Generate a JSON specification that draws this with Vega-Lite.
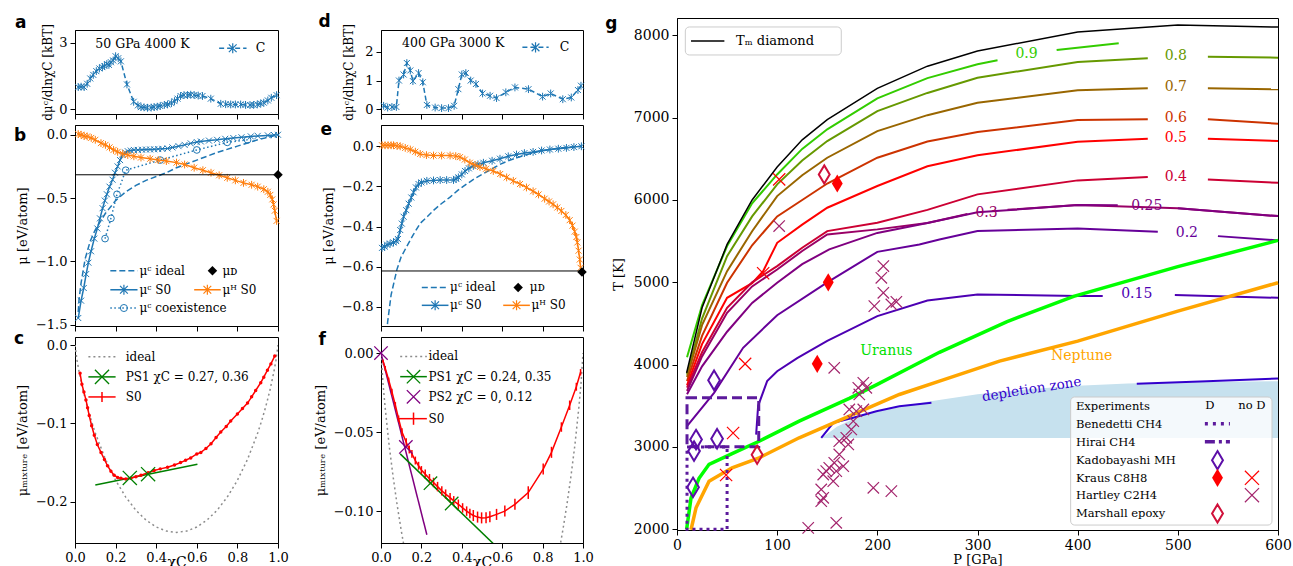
{
"$schema": "https://vega.github.io/schema/vega-lite/v6.json",
"padding": {"left": 13, "top": 12, "right": 0, "bottom": 0},
"config": {
  "font": "DejaVu Serif",
  "view": {"stroke": "black", "strokeWidth": 1},
  "axis": {"grid": false, "labelFlush": false, "domainColor": "black", "domainWidth": 1, "tickColor": "black", "tickWidth": 1, "tickSize": 5, "labelColor": "black", "labelFont": "DejaVu Serif", "labelFontSize": 13, "labelPadding": 3, "titleFont": "DejaVu Serif", "titleFontSize": 13, "titleFontWeight": "normal", "titleColor": "black"},
  "text": {"font": "DejaVu Serif", "fontSize": 12, "align": "left", "baseline": "middle", "color": "black"},
  "line": {"strokeWidth": 1.5}
},
"datasets": {
  "a": [{"x":0.016,"y":1.0},{"x":0.03,"y":1.02},{"x":0.045,"y":1.0},{"x":0.06,"y":1.15},{"x":0.075,"y":1.39},{"x":0.09,"y":1.55},{"x":0.105,"y":1.72},{"x":0.12,"y":1.84},{"x":0.135,"y":1.9},{"x":0.145,"y":1.95},{"x":0.157,"y":2.04},{"x":0.167,"y":2.0},{"x":0.177,"y":2.12},{"x":0.188,"y":2.2},{"x":0.2,"y":2.39},{"x":0.213,"y":2.3},{"x":0.226,"y":2.16},{"x":0.256,"y":1.12},{"x":0.289,"y":0.34},{"x":0.31,"y":0.18},{"x":0.325,"y":0.1},{"x":0.34,"y":0.09},{"x":0.357,"y":0.07},{"x":0.375,"y":0.08},{"x":0.39,"y":0.1},{"x":0.405,"y":0.12},{"x":0.42,"y":0.15},{"x":0.44,"y":0.2},{"x":0.456,"y":0.22},{"x":0.475,"y":0.28},{"x":0.49,"y":0.37},{"x":0.505,"y":0.48},{"x":0.52,"y":0.6},{"x":0.537,"y":0.64},{"x":0.554,"y":0.64},{"x":0.57,"y":0.66},{"x":0.587,"y":0.64},{"x":0.607,"y":0.62},{"x":0.628,"y":0.6},{"x":0.669,"y":0.48},{"x":0.718,"y":0.25},{"x":0.742,"y":0.23},{"x":0.767,"y":0.22},{"x":0.79,"y":0.22},{"x":0.816,"y":0.22},{"x":0.84,"y":0.2},{"x":0.862,"y":0.19},{"x":0.88,"y":0.2},{"x":0.898,"y":0.22},{"x":0.915,"y":0.26},{"x":0.93,"y":0.3},{"x":0.95,"y":0.4},{"x":0.967,"y":0.52},{"x":0.993,"y":0.64}],
  "b_cs0": [{"x":0.016,"y":-1.447},{"x":0.03,"y":-1.31},{"x":0.043,"y":-1.21},{"x":0.055,"y":-1.1},{"x":0.066,"y":-1.01},{"x":0.079,"y":-0.92},{"x":0.095,"y":-0.82},{"x":0.11,"y":-0.74},{"x":0.123,"y":-0.66},{"x":0.136,"y":-0.58},{"x":0.147,"y":-0.52},{"x":0.157,"y":-0.47},{"x":0.17,"y":-0.41},{"x":0.185,"y":-0.355},{"x":0.197,"y":-0.3},{"x":0.21,"y":-0.25},{"x":0.222,"y":-0.2},{"x":0.234,"y":-0.16},{"x":0.247,"y":-0.14},{"x":0.26,"y":-0.13},{"x":0.275,"y":-0.125},{"x":0.29,"y":-0.12},{"x":0.31,"y":-0.12},{"x":0.33,"y":-0.118},{"x":0.35,"y":-0.117},{"x":0.37,"y":-0.116},{"x":0.39,"y":-0.115},{"x":0.41,"y":-0.113},{"x":0.43,"y":-0.111},{"x":0.456,"y":-0.108},{"x":0.48,"y":-0.1},{"x":0.51,"y":-0.09},{"x":0.54,"y":-0.08},{"x":0.57,"y":-0.068},{"x":0.6,"y":-0.058},{"x":0.62,"y":-0.053},{"x":0.66,"y":-0.046},{"x":0.7,"y":-0.04},{"x":0.74,"y":-0.032},{"x":0.78,"y":-0.026},{"x":0.82,"y":-0.02},{"x":0.866,"y":-0.013},{"x":0.9,"y":-0.009},{"x":0.95,"y":-0.005},{"x":0.98,"y":-0.002},{"x":1.0,"y":0.0}],
  "b_hs0": [{"x":0.016,"y":0.005},{"x":0.03,"y":0.0},{"x":0.045,"y":-0.01},{"x":0.06,"y":-0.013},{"x":0.08,"y":-0.025},{"x":0.1,"y":-0.04},{"x":0.128,"y":-0.066},{"x":0.15,"y":-0.08},{"x":0.17,"y":-0.1},{"x":0.19,"y":-0.12},{"x":0.21,"y":-0.135},{"x":0.235,"y":-0.15},{"x":0.26,"y":-0.16},{"x":0.29,"y":-0.17},{"x":0.325,"y":-0.18},{"x":0.37,"y":-0.19},{"x":0.41,"y":-0.2},{"x":0.45,"y":-0.208},{"x":0.5,"y":-0.22},{"x":0.54,"y":-0.235},{"x":0.587,"y":-0.26},{"x":0.63,"y":-0.28},{"x":0.67,"y":-0.3},{"x":0.71,"y":-0.32},{"x":0.75,"y":-0.34},{"x":0.79,"y":-0.36},{"x":0.83,"y":-0.38},{"x":0.87,"y":-0.395},{"x":0.9,"y":-0.41},{"x":0.93,"y":-0.43},{"x":0.95,"y":-0.45},{"x":0.962,"y":-0.475},{"x":0.972,"y":-0.51},{"x":0.978,"y":-0.55},{"x":0.984,"y":-0.6},{"x":0.993,"y":-0.68}],
  "b_cid": [{"x":0.016,"y":-1.4},{"x":0.02,"y":-1.3},{"x":0.03,"y":-1.17},{"x":0.05,"y":-0.98},{"x":0.075,"y":-0.84},{"x":0.1,"y":-0.75},{"x":0.15,"y":-0.62},{"x":0.2,"y":-0.52},{"x":0.25,"y":-0.45},{"x":0.3,"y":-0.4},{"x":0.35,"y":-0.36},{"x":0.4,"y":-0.33},{"x":0.45,"y":-0.3},{"x":0.5,"y":-0.26},{"x":0.55,"y":-0.23},{"x":0.6,"y":-0.2},{"x":0.7,"y":-0.14},{"x":0.8,"y":-0.09},{"x":0.9,"y":-0.04},{"x":1.0,"y":0.0}],
  "b_cco": [{"x":0.148,"y":-0.82},{"x":0.177,"y":-0.66},{"x":0.207,"y":-0.47},{"x":0.25,"y":-0.28},{"x":0.42,"y":-0.2},{"x":0.6,"y":-0.12},{"x":0.75,"y":-0.06},{"x":0.85,"y":-0.04}],
  "c_s0": [{"x":0.025,"y":-0.036},{"x":0.034,"y":-0.05},{"x":0.044,"y":-0.06},{"x":0.054,"y":-0.07},{"x":0.062,"y":-0.08},{"x":0.07,"y":-0.09},{"x":0.082,"y":-0.103},{"x":0.095,"y":-0.115},{"x":0.11,"y":-0.127},{"x":0.128,"y":-0.137},{"x":0.145,"y":-0.146},{"x":0.16,"y":-0.154},{"x":0.177,"y":-0.161},{"x":0.193,"y":-0.166},{"x":0.21,"y":-0.169},{"x":0.226,"y":-0.17},{"x":0.25,"y":-0.171},{"x":0.275,"y":-0.17},{"x":0.3,"y":-0.168},{"x":0.325,"y":-0.166},{"x":0.36,"y":-0.163},{"x":0.39,"y":-0.16},{"x":0.42,"y":-0.158},{"x":0.456,"y":-0.156},{"x":0.49,"y":-0.153},{"x":0.52,"y":-0.15},{"x":0.545,"y":-0.147},{"x":0.57,"y":-0.144},{"x":0.6,"y":-0.139},{"x":0.62,"y":-0.137},{"x":0.645,"y":-0.132},{"x":0.67,"y":-0.126},{"x":0.695,"y":-0.118},{"x":0.718,"y":-0.111},{"x":0.745,"y":-0.104},{"x":0.767,"y":-0.097},{"x":0.8,"y":-0.088},{"x":0.825,"y":-0.081},{"x":0.85,"y":-0.074},{"x":0.87,"y":-0.066},{"x":0.89,"y":-0.058},{"x":0.915,"y":-0.048},{"x":0.93,"y":-0.041},{"x":0.948,"y":-0.032},{"x":0.965,"y":-0.024},{"x":0.984,"y":-0.014}],
  "c_id": [{"x":0,"y":0},{"x":0.01,"y":-0.0193},{"x":0.02,"y":-0.0338},{"x":0.04,"y":-0.058},{"x":0.06,"y":-0.0783},{"x":0.08,"y":-0.0962},{"x":0.1,"y":-0.1122},{"x":0.15,"y":-0.1458},{"x":0.2,"y":-0.1726},{"x":0.25,"y":-0.194},{"x":0.3,"y":-0.2108},{"x":0.35,"y":-0.2234},{"x":0.4,"y":-0.2322},{"x":0.45,"y":-0.2374},{"x":0.5,"y":-0.2391},{"x":0.55,"y":-0.2374},{"x":0.6,"y":-0.2322},{"x":0.65,"y":-0.2234},{"x":0.7,"y":-0.2108},{"x":0.75,"y":-0.194},{"x":0.8,"y":-0.1726},{"x":0.85,"y":-0.1458},{"x":0.9,"y":-0.1122},{"x":0.92,"y":-0.0962},{"x":0.94,"y":-0.0783},{"x":0.96,"y":-0.058},{"x":0.98,"y":-0.0338},{"x":0.99,"y":-0.0193},{"x":1,"y":0}],
  "c_ps1l": [{"x":0.1,"y":-0.1786},{"x":0.603,"y":-0.152}],
  "c_ps1m": [{"x":0.27,"y":-0.1696},{"x":0.36,"y":-0.1648}],
  "d": [{"x":0.013,"y":0.12},{"x":0.033,"y":0.06},{"x":0.054,"y":0.08},{"x":0.076,"y":0.08},{"x":0.089,"y":1.0},{"x":0.112,"y":1.21},{"x":0.128,"y":1.61},{"x":0.145,"y":1.35},{"x":0.158,"y":0.98},{"x":0.186,"y":1.26},{"x":0.207,"y":0.94},{"x":0.227,"y":0.15},{"x":0.268,"y":0.06},{"x":0.3,"y":0.04},{"x":0.334,"y":0.04},{"x":0.362,"y":0.12},{"x":0.383,"y":0.7},{"x":0.4,"y":1.21},{"x":0.42,"y":1.26},{"x":0.444,"y":1.0},{"x":0.47,"y":0.88},{"x":0.503,"y":0.55},{"x":0.54,"y":0.47},{"x":0.572,"y":0.39},{"x":0.618,"y":0.59},{"x":0.663,"y":0.76},{"x":0.73,"y":0.7},{"x":0.8,"y":0.44},{"x":0.84,"y":0.55},{"x":0.9,"y":0.35},{"x":0.942,"y":0.41},{"x":0.975,"y":0.67},{"x":0.99,"y":0.82}],
  "e_cs0": [{"x":0.005,"y":-0.506},{"x":0.018,"y":-0.5},{"x":0.03,"y":-0.49},{"x":0.045,"y":-0.485},{"x":0.062,"y":-0.479},{"x":0.075,"y":-0.472},{"x":0.084,"y":-0.462},{"x":0.095,"y":-0.417},{"x":0.103,"y":-0.385},{"x":0.112,"y":-0.351},{"x":0.125,"y":-0.318},{"x":0.137,"y":-0.286},{"x":0.15,"y":-0.255},{"x":0.161,"y":-0.229},{"x":0.173,"y":-0.205},{"x":0.186,"y":-0.188},{"x":0.2,"y":-0.18},{"x":0.227,"y":-0.172},{"x":0.26,"y":-0.17},{"x":0.293,"y":-0.168},{"x":0.325,"y":-0.168},{"x":0.359,"y":-0.168},{"x":0.372,"y":-0.162},{"x":0.383,"y":-0.155},{"x":0.4,"y":-0.14},{"x":0.416,"y":-0.123},{"x":0.435,"y":-0.11},{"x":0.457,"y":-0.098},{"x":0.48,"y":-0.09},{"x":0.507,"y":-0.082},{"x":0.55,"y":-0.072},{"x":0.589,"y":-0.062},{"x":0.63,"y":-0.05},{"x":0.671,"y":-0.041},{"x":0.71,"y":-0.034},{"x":0.753,"y":-0.028},{"x":0.795,"y":-0.021},{"x":0.836,"y":-0.016},{"x":0.878,"y":-0.012},{"x":0.918,"y":-0.008},{"x":0.955,"y":-0.004},{"x":0.992,"y":0.0}],
  "e_hs0": [{"x":0.005,"y":0.005},{"x":0.02,"y":0.005},{"x":0.035,"y":0.005},{"x":0.05,"y":0.005},{"x":0.062,"y":0.005},{"x":0.08,"y":0.002},{"x":0.095,"y":0.0},{"x":0.12,"y":-0.008},{"x":0.145,"y":-0.016},{"x":0.17,"y":-0.027},{"x":0.194,"y":-0.038},{"x":0.225,"y":-0.044},{"x":0.26,"y":-0.046},{"x":0.3,"y":-0.046},{"x":0.342,"y":-0.046},{"x":0.37,"y":-0.049},{"x":0.391,"y":-0.054},{"x":0.415,"y":-0.066},{"x":0.44,"y":-0.082},{"x":0.465,"y":-0.093},{"x":0.49,"y":-0.103},{"x":0.52,"y":-0.112},{"x":0.556,"y":-0.123},{"x":0.59,"y":-0.138},{"x":0.622,"y":-0.155},{"x":0.655,"y":-0.172},{"x":0.688,"y":-0.188},{"x":0.72,"y":-0.205},{"x":0.753,"y":-0.224},{"x":0.78,"y":-0.24},{"x":0.81,"y":-0.261},{"x":0.832,"y":-0.275},{"x":0.852,"y":-0.289},{"x":0.873,"y":-0.305},{"x":0.893,"y":-0.322},{"x":0.915,"y":-0.342},{"x":0.934,"y":-0.368},{"x":0.948,"y":-0.395},{"x":0.959,"y":-0.425},{"x":0.967,"y":-0.452},{"x":0.972,"y":-0.479},{"x":0.978,"y":-0.52},{"x":0.984,"y":-0.564},{"x":0.988,"y":-0.605}],
  "e_cid": [{"x":0.028,"y":-0.93},{"x":0.033,"y":-0.874},{"x":0.05,"y":-0.74},{"x":0.079,"y":-0.613},{"x":0.1,"y":-0.55},{"x":0.128,"y":-0.498},{"x":0.16,"y":-0.44},{"x":0.194,"y":-0.384},{"x":0.23,"y":-0.35},{"x":0.26,"y":-0.319},{"x":0.3,"y":-0.285},{"x":0.342,"y":-0.253},{"x":0.38,"y":-0.22},{"x":0.424,"y":-0.188},{"x":0.465,"y":-0.16},{"x":0.507,"y":-0.136},{"x":0.55,"y":-0.112},{"x":0.589,"y":-0.09},{"x":0.63,"y":-0.072},{"x":0.671,"y":-0.057},{"x":0.71,"y":-0.045},{"x":0.753,"y":-0.033},{"x":0.8,"y":-0.022},{"x":0.852,"y":-0.013},{"x":0.918,"y":-0.005},{"x":0.992,"y":0.0}],
  "f_s0": [{"x":0.01,"y":-0.005,"err":0.001},{"x":0.021,"y":-0.0096,"err":0.0015},{"x":0.038,"y":-0.017,"err":0.0015},{"x":0.054,"y":-0.0245,"err":0.002},{"x":0.071,"y":-0.033,"err":0.002},{"x":0.087,"y":-0.0415,"err":0.002},{"x":0.104,"y":-0.05,"err":0.0025},{"x":0.125,"y":-0.0564,"err":0.0025},{"x":0.14,"y":-0.061,"err":0.0025},{"x":0.153,"y":-0.0638,"err":0.0025},{"x":0.17,"y":-0.068,"err":0.0025},{"x":0.186,"y":-0.0713,"err":0.0025},{"x":0.2,"y":-0.074,"err":0.0025},{"x":0.219,"y":-0.0766,"err":0.003},{"x":0.24,"y":-0.0795,"err":0.003},{"x":0.26,"y":-0.0819,"err":0.003},{"x":0.28,"y":-0.0845,"err":0.003},{"x":0.301,"y":-0.0872,"err":0.003},{"x":0.32,"y":-0.0893,"err":0.003},{"x":0.342,"y":-0.0915,"err":0.003},{"x":0.36,"y":-0.0935,"err":0.003},{"x":0.383,"y":-0.0957,"err":0.003},{"x":0.404,"y":-0.098,"err":0.003},{"x":0.424,"y":-0.1,"err":0.003},{"x":0.44,"y":-0.1015,"err":0.003},{"x":0.457,"y":-0.1028,"err":0.0035},{"x":0.478,"y":-0.1038,"err":0.0035},{"x":0.498,"y":-0.1043,"err":0.0035},{"x":0.52,"y":-0.1042,"err":0.0035},{"x":0.539,"y":-0.1036,"err":0.0035},{"x":0.572,"y":-0.1021,"err":0.0035},{"x":0.613,"y":-0.1,"err":0.0035},{"x":0.663,"y":-0.0957,"err":0.0035},{"x":0.729,"y":-0.0883,"err":0.004},{"x":0.803,"y":-0.0734,"err":0.0035},{"x":0.844,"y":-0.0628,"err":0.0035},{"x":0.893,"y":-0.0468,"err":0.003},{"x":0.934,"y":-0.033,"err":0.003},{"x":0.967,"y":-0.0213,"err":0.0025},{"x":0.988,"y":-0.0121,"err":0.002}],
  "f_id": [{"s":"L","x":0,"y":0},{"s":"L","x":0.01,"y":-0.0193},{"s":"L","x":0.02,"y":-0.0338},{"s":"L","x":0.04,"y":-0.058},{"s":"L","x":0.06,"y":-0.0783},{"s":"L","x":0.08,"y":-0.0962},{"s":"L","x":0.1,"y":-0.1122},{"s":"L","x":0.115,"y":-0.123},{"s":"R","x":0.885,"y":-0.123},{"s":"R","x":0.9,"y":-0.1122},{"s":"R","x":0.92,"y":-0.0962},{"s":"R","x":0.94,"y":-0.0783},{"s":"R","x":0.96,"y":-0.058},{"s":"R","x":0.98,"y":-0.0338},{"s":"R","x":0.99,"y":-0.0193},{"s":"R","x":1,"y":0}],
  "f_ps1l": [{"x":0.095,"y":-0.0638},{"x":0.56,"y":-0.1211}],
  "f_ps1m": [{"x":0.245,"y":-0.0823},{"x":0.35,"y":-0.0952}],
  "f_ps2l": [{"x":0,"y":0},{"x":0.227,"y":-0.115}],
  "f_ps2m": [{"x":0,"y":0},{"x":0.123,"y":-0.0594}],
  "g_tm": [{"P":9.6,"T":3900},{"P":25,"T":4690},{"P":50,"T":5460},{"P":75,"T":6000},{"P":100,"T":6400},{"P":125,"T":6730},{"P":150,"T":6975},{"P":200,"T":7355},{"P":250,"T":7625},{"P":300,"T":7810},{"P":400,"T":8040},{"P":500,"T":8125},{"P":600,"T":8100}],
  "g_ur": [{"P":9.6,"T":2000},{"P":14,"T":2380},{"P":22,"T":2620},{"P":32,"T":2790},{"P":55,"T":2920},{"P":82,"T":3070},{"P":122,"T":3314},{"P":172,"T":3590},{"P":200,"T":3760},{"P":262,"T":4150},{"P":329,"T":4520},{"P":396,"T":4830},{"P":500,"T":5190},{"P":600,"T":5509}],
  "g_ne": [{"P":14,"T":1995},{"P":19,"T":2261},{"P":32,"T":2585},{"P":55,"T":2747},{"P":82,"T":2869},{"P":122,"T":3112},{"P":176,"T":3395},{"P":222,"T":3638},{"P":262,"T":3800},{"P":322,"T":4043},{"P":400,"T":4286},{"P":500,"T":4650},{"P":600,"T":4995}],
  "g_dep": [{"P":145,"lo":3108,"hi":3115},{"P":160,"lo":3108,"hi":3250},{"P":180,"lo":3108,"hi":3360},{"P":200,"lo":3108,"hi":3430},{"P":250,"lo":3108,"hi":3550},{"P":300,"lo":3108,"hi":3640},{"P":350,"lo":3108,"hi":3700},{"P":400,"lo":3108,"hi":3745},{"P":450,"lo":3108,"hi":3770},{"P":500,"lo":3108,"hi":3785},{"P":600,"lo":3108,"hi":3800}],
  "g_cont": [
    {"lv":"0.9","seg":"0.9a","P":10,"T":4090},{"lv":"0.9","seg":"0.9a","P":25,"T":4720},{"lv":"0.9","seg":"0.9a","P":50,"T":5440},{"lv":"0.9","seg":"0.9a","P":75,"T":5960},{"lv":"0.9","seg":"0.9a","P":100,"T":6310},{"lv":"0.9","seg":"0.9a","P":125,"T":6620},{"lv":"0.9","seg":"0.9a","P":150,"T":6858},{"lv":"0.9","seg":"0.9a","P":200,"T":7235},{"lv":"0.9","seg":"0.9a","P":250,"T":7480},{"lv":"0.9","seg":"0.9a","P":300,"T":7648},{"lv":"0.9","seg":"0.9a","P":320,"T":7696},
    {"lv":"0.9","seg":"0.9b","P":379,"T":7821},{"lv":"0.9","seg":"0.9b","P":441,"T":7903},
    {"lv":"0.8","seg":"0.8a","P":10,"T":3880},{"lv":"0.8","seg":"0.8a","P":25,"T":4560},{"lv":"0.8","seg":"0.8a","P":50,"T":5318},{"lv":"0.8","seg":"0.8a","P":75,"T":5800},{"lv":"0.8","seg":"0.8a","P":100,"T":6190},{"lv":"0.8","seg":"0.8a","P":125,"T":6480},{"lv":"0.8","seg":"0.8a","P":150,"T":6716},{"lv":"0.8","seg":"0.8a","P":200,"T":7080},{"lv":"0.8","seg":"0.8a","P":250,"T":7300},{"lv":"0.8","seg":"0.8a","P":300,"T":7485},{"lv":"0.8","seg":"0.8a","P":400,"T":7676},{"lv":"0.8","seg":"0.8a","P":470,"T":7720},
    {"lv":"0.8","seg":"0.8b","P":530,"T":7740},{"lv":"0.8","seg":"0.8b","P":600,"T":7728},
    {"lv":"0.7","seg":"0.7a","P":10,"T":3850},{"lv":"0.7","seg":"0.7a","P":25,"T":4480},{"lv":"0.7","seg":"0.7a","P":50,"T":5136},{"lv":"0.7","seg":"0.7a","P":75,"T":5620},{"lv":"0.7","seg":"0.7a","P":100,"T":6047},{"lv":"0.7","seg":"0.7a","P":125,"T":6300},{"lv":"0.7","seg":"0.7a","P":150,"T":6513},{"lv":"0.7","seg":"0.7a","P":200,"T":6837},{"lv":"0.7","seg":"0.7a","P":250,"T":7030},{"lv":"0.7","seg":"0.7a","P":300,"T":7181},{"lv":"0.7","seg":"0.7a","P":400,"T":7332},{"lv":"0.7","seg":"0.7a","P":470,"T":7356},
    {"lv":"0.7","seg":"0.7b","P":530,"T":7356},{"lv":"0.7","seg":"0.7b","P":600,"T":7344},
    {"lv":"0.6","seg":"0.6a","P":10,"T":3800},{"lv":"0.6","seg":"0.6a","P":25,"T":4350},{"lv":"0.6","seg":"0.6a","P":50,"T":4994},{"lv":"0.6","seg":"0.6a","P":75,"T":5450},{"lv":"0.6","seg":"0.6a","P":100,"T":5800},{"lv":"0.6","seg":"0.6a","P":125,"T":6000},{"lv":"0.6","seg":"0.6a","P":150,"T":6200},{"lv":"0.6","seg":"0.6a","P":200,"T":6513},{"lv":"0.6","seg":"0.6a","P":250,"T":6710},{"lv":"0.6","seg":"0.6a","P":300,"T":6825},{"lv":"0.6","seg":"0.6a","P":400,"T":6971},{"lv":"0.6","seg":"0.6a","P":470,"T":6979},
    {"lv":"0.6","seg":"0.6b","P":530,"T":6979},{"lv":"0.6","seg":"0.6b","P":600,"T":6926},
    {"lv":"0.5","seg":"0.5a","P":10,"T":3750},{"lv":"0.5","seg":"0.5a","P":25,"T":4250},{"lv":"0.5","seg":"0.5a","P":50,"T":4812},{"lv":"0.5","seg":"0.5a","P":75,"T":4990},{"lv":"0.5","seg":"0.5a","P":86,"T":5136},{"lv":"0.5","seg":"0.5a","P":100,"T":5480},{"lv":"0.5","seg":"0.5a","P":125,"T":5700},{"lv":"0.5","seg":"0.5a","P":150,"T":5906},{"lv":"0.5","seg":"0.5a","P":200,"T":6170},{"lv":"0.5","seg":"0.5a","P":250,"T":6410},{"lv":"0.5","seg":"0.5a","P":300,"T":6542},{"lv":"0.5","seg":"0.5a","P":400,"T":6707},{"lv":"0.5","seg":"0.5a","P":470,"T":6744},
    {"lv":"0.5","seg":"0.5b","P":530,"T":6744},{"lv":"0.5","seg":"0.5b","P":600,"T":6716},
    {"lv":"0.4","seg":"0.4a","P":10,"T":3720},{"lv":"0.4","seg":"0.4a","P":25,"T":4150},{"lv":"0.4","seg":"0.4a","P":50,"T":4690},{"lv":"0.4","seg":"0.4a","P":75,"T":5000},{"lv":"0.4","seg":"0.4a","P":100,"T":5197},{"lv":"0.4","seg":"0.4a","P":125,"T":5420},{"lv":"0.4","seg":"0.4a","P":150,"T":5622},{"lv":"0.4","seg":"0.4a","P":200,"T":5723},{"lv":"0.4","seg":"0.4a","P":250,"T":5880},{"lv":"0.4","seg":"0.4a","P":300,"T":6068},{"lv":"0.4","seg":"0.4a","P":400,"T":6238},{"lv":"0.4","seg":"0.4a","P":470,"T":6278},
    {"lv":"0.4","seg":"0.4b","P":530,"T":6250},{"lv":"0.4","seg":"0.4b","P":600,"T":6209},
    {"lv":"0.3","seg":"0.3a","P":10,"T":3680},{"lv":"0.3","seg":"0.3a","P":25,"T":4100},{"lv":"0.3","seg":"0.3a","P":50,"T":4630},{"lv":"0.3","seg":"0.3a","P":75,"T":4950},{"lv":"0.3","seg":"0.3a","P":100,"T":5156},{"lv":"0.3","seg":"0.3a","P":125,"T":5380},{"lv":"0.3","seg":"0.3a","P":150,"T":5582},{"lv":"0.3","seg":"0.3a","P":200,"T":5643},{"lv":"0.3","seg":"0.3a","P":250,"T":5720},{"lv":"0.3","seg":"0.3a","P":290,"T":5830},
    {"lv":"0.3","seg":"0.3b","P":330,"T":5880},{"lv":"0.3","seg":"0.3b","P":400,"T":5938},{"lv":"0.3","seg":"0.3b","P":500,"T":5900},{"lv":"0.3","seg":"0.3b","P":600,"T":5804},
    {"lv":"0.25","seg":"0.25a","P":10,"T":3640},{"lv":"0.25","seg":"0.25a","P":25,"T":3980},{"lv":"0.25","seg":"0.25a","P":50,"T":4400},{"lv":"0.25","seg":"0.25a","P":75,"T":4750},{"lv":"0.25","seg":"0.25a","P":100,"T":4994},{"lv":"0.25","seg":"0.25a","P":125,"T":5220},{"lv":"0.25","seg":"0.25a","P":152,"T":5400},{"lv":"0.25","seg":"0.25a","P":200,"T":5600},{"lv":"0.25","seg":"0.25a","P":250,"T":5720},{"lv":"0.25","seg":"0.25a","P":300,"T":5850},{"lv":"0.25","seg":"0.25a","P":400,"T":5938},{"lv":"0.25","seg":"0.25a","P":440,"T":5935},
    {"lv":"0.25","seg":"0.25b","P":500,"T":5900},{"lv":"0.25","seg":"0.25b","P":600,"T":5804},
    {"lv":"0.2","seg":"0.2a","P":10,"T":3253},{"lv":"0.2","seg":"0.2a","P":37,"T":3658},{"lv":"0.2","seg":"0.2a","P":66,"T":4205},{"lv":"0.2","seg":"0.2a","P":100,"T":4600},{"lv":"0.2","seg":"0.2a","P":150,"T":5000},{"lv":"0.2","seg":"0.2a","P":200,"T":5370},{"lv":"0.2","seg":"0.2a","P":242,"T":5460},{"lv":"0.2","seg":"0.2a","P":262,"T":5521},{"lv":"0.2","seg":"0.2a","P":300,"T":5622},{"lv":"0.2","seg":"0.2a","P":400,"T":5655},{"lv":"0.2","seg":"0.2a","P":480,"T":5614},
    {"lv":"0.2","seg":"0.2b","P":540,"T":5561},{"lv":"0.2","seg":"0.2b","P":600,"T":5509},
    {"lv":"0.15","seg":"0.15a","P":79,"T":3150},{"lv":"0.15","seg":"0.15a","P":81,"T":3500},{"lv":"0.15","seg":"0.15a","P":90,"T":3800},{"lv":"0.15","seg":"0.15a","P":100,"T":3920},{"lv":"0.15","seg":"0.15a","P":120,"T":4080},{"lv":"0.15","seg":"0.15a","P":150,"T":4290},{"lv":"0.15","seg":"0.15a","P":200,"T":4590},{"lv":"0.15","seg":"0.15a","P":250,"T":4780},{"lv":"0.15","seg":"0.15a","P":300,"T":4853},{"lv":"0.15","seg":"0.15a","P":400,"T":4835},{"lv":"0.15","seg":"0.15a","P":425,"T":4835},
    {"lv":"0.15","seg":"0.15b","P":497,"T":4845},{"lv":"0.15","seg":"0.15b","P":600,"T":4812},
    {"lv":"0.1","seg":"0.1a","P":144,"T":3112},{"lv":"0.1","seg":"0.1a","P":156,"T":3294},{"lv":"0.1","seg":"0.1a","P":176,"T":3355},{"lv":"0.1","seg":"0.1a","P":199,"T":3435},{"lv":"0.1","seg":"0.1a","P":222,"T":3496},{"lv":"0.1","seg":"0.1a","P":254,"T":3537},
    {"lv":"0.1","seg":"0.1b","P":459,"T":3768},{"lv":"0.1","seg":"0.1b","P":529,"T":3800},{"lv":"0.1","seg":"0.1b","P":600,"T":3832}
  ],
  "g_lab": [{"lv":"0.9","P":349,"T":7769},{"lv":"0.8","P":498,"T":7745},{"lv":"0.7","P":498,"T":7372},{"lv":"0.6","P":498,"T":6999},{"lv":"0.5","P":498,"T":6756},{"lv":"0.4","P":498,"T":6282},{"lv":"0.3","P":309,"T":5845},{"lv":"0.25","P":469,"T":5926},{"lv":"0.2","P":509,"T":5601},{"lv":"0.15","P":459,"T":4853}],
  "g_hirai": [{"P1":10,"P2":81.6,"T1":3002,"T2":3597}],
  "g_bene": [{"P1":10,"P2":50,"T1":2000,"T2":3000}],
  "g_kado": [{"P":37,"T":3810},{"P":40,"T":3100},{"P":19,"T":3090},{"P":17,"T":2950},{"P":16,"T":2510}],
  "g_krd": [{"P":160,"T":6200},{"P":151,"T":5000},{"P":140,"T":4010}],
  "g_krn": [{"P":102,"T":6250},{"P":86,"T":5110},{"P":68,"T":4010},{"P":56,"T":3170},{"P":49,"T":2660}],
  "g_har": [{"P":102,"T":5683},{"P":157,"T":3962},{"P":206,"T":5197},{"P":204,"T":5055},{"P":206,"T":4873},{"P":197,"T":4711},{"P":214,"T":4731},{"P":219,"T":4763},{"P":181,"T":3719},{"P":186,"T":3780},{"P":189,"T":3719},{"P":182,"T":3638},{"P":172,"T":3456},{"P":179,"T":3436},{"P":186,"T":3456},{"P":176,"T":3314},{"P":174,"T":3213},{"P":169,"T":3112},{"P":162,"T":3071},{"P":171,"T":3031},{"P":162,"T":2909},{"P":157,"T":2808},{"P":152,"T":2747},{"P":146,"T":2666},{"P":149,"T":2707},{"P":156,"T":2585},{"P":144,"T":2484},{"P":146,"T":2383},{"P":144,"T":2342},{"P":196,"T":2504},{"P":214,"T":2464},{"P":131,"T":2018},{"P":159,"T":2079},{"P":166,"T":2767},{"P":159,"T":2707}],
  "g_mar": [{"P":147,"T":6310},{"P":80,"T":2905}]
},
"hconcat": [
 {"hconcat": [
  {"vconcat": [
   {"width": 203, "height": 1, "view": {"stroke": null}, "data": {"values": [{}]}, "mark": {"type": "point", "opacity": 0}, "encoding": {}},
   {"width": 203, "height": 84,
    "data": {"values": [{}]},
    "layer": [
     {"data": {"name": "a"}, "mark": {"type": "line", "color": "#1f77b4", "strokeDash": [5, 3]},
      "encoding": {"x": {"field": "x", "type": "quantitative", "scale": {"domain": [0, 1], "nice": false, "zero": false}, "axis": {"values": [0, 0.2, 0.4, 0.6, 0.8, 1], "labels": false, "title": null}},
                   "y": {"field": "y", "type": "quantitative", "scale": {"domain": [-0.21, 3.57], "nice": false, "zero": false}, "axis": {"values": [0, 1, 2, 3], "format": "d", "title": "dμᶜ/dlnχC [kBT]", "titlePadding": 4, "titleFontSize": 12}}}},
     {"data": {"name": "a"}, "mark": {"type": "point", "shape": "M-1,-1L1,1M-1,1L1,-1M0,-1.3L0,1.3", "size": 36, "filled": false, "color": "#1f77b4", "strokeWidth": 1, "opacity": 1},
      "encoding": {"x": {"field": "x", "type": "quantitative"}, "y": {"field": "y", "type": "quantitative"}}},
     {"mark": {"type": "text", "font": "DejaVu Sans", "fontSize": 17, "fontWeight": "bold", "baseline": "alphabetic"}, "encoding": {"x": {"datum": -0.296}, "y": {"datum": 3.66}, "text": {"value": "a"}}},
     {"mark": {"type": "text", "fontSize": 12.5}, "encoding": {"x": {"datum": 0.1}, "y": {"datum": 2.94}, "text": {"value": "50 GPa 4000 K"}}},
     {"mark": {"type": "rule", "color": "#1f77b4", "strokeDash": [5, 3], "strokeWidth": 1.5}, "encoding": {"x": {"datum": 0.71}, "x2": {"datum": 0.845}, "y": {"datum": 2.75}}},
     {"mark": {"type": "point", "shape": "M-1,-1L1,1M-1,1L1,-1M0,-1.3L0,1.3", "size": 60, "filled": false, "color": "#1f77b4", "strokeWidth": 1.2, "opacity": 1}, "encoding": {"x": {"datum": 0.777}, "y": {"datum": 2.75}}},
     {"mark": {"type": "text", "fontSize": 12.5}, "encoding": {"x": {"datum": 0.89}, "y": {"datum": 2.75}, "text": {"value": "C"}}}
    ]},
   {"width": 203, "height": 201,
    "data": {"values": [{}]},
    "layer": [
     {"data": {"name": "b_cid"}, "mark": {"type": "line", "color": "#1f77b4", "strokeDash": [6, 3], "clip": true},
      "encoding": {"x": {"field": "x", "type": "quantitative", "scale": {"domain": [0, 1], "nice": false, "zero": false}, "axis": {"values": [0, 0.2, 0.4, 0.6, 0.8, 1], "labels": false, "title": null}},
                   "y": {"field": "y", "type": "quantitative", "scale": {"domain": [-1.51, 0.077], "nice": false, "zero": false}, "axis": {"values": [0, -0.5, -1, -1.5], "format": ".1f", "title": "μ [eV/atom]", "titlePadding": 6}}}},
     {"data": {"name": "b_cs0"}, "mark": {"type": "line", "color": "#1f77b4"}, "encoding": {"x": {"field": "x", "type": "quantitative"}, "y": {"field": "y", "type": "quantitative"}}},
     {"data": {"name": "b_cs0"}, "mark": {"type": "point", "shape": "M-1,-1L1,1M-1,1L1,-1", "size": 36, "filled": false, "color": "#1f77b4", "strokeWidth": 1, "opacity": 1}, "encoding": {"x": {"field": "x", "type": "quantitative"}, "y": {"field": "y", "type": "quantitative"}}},
     {"data": {"name": "b_cco"}, "mark": {"type": "line", "color": "#1f77b4", "strokeDash": [1.5, 2.5]}, "encoding": {"x": {"field": "x", "type": "quantitative"}, "y": {"field": "y", "type": "quantitative"}}},
     {"data": {"name": "b_cco"}, "mark": {"type": "point", "shape": "circle", "size": 45, "filled": false, "color": "#1f77b4", "strokeWidth": 1, "opacity": 1}, "encoding": {"x": {"field": "x", "type": "quantitative"}, "y": {"field": "y", "type": "quantitative"}}},
     {"data": {"name": "b_hs0"}, "mark": {"type": "line", "color": "#ff7f0e"}, "encoding": {"x": {"field": "x", "type": "quantitative"}, "y": {"field": "y", "type": "quantitative"}}},
     {"data": {"name": "b_hs0"}, "mark": {"type": "point", "shape": "M-1,-1L1,1M-1,1L1,-1M0,-1.3L0,1.3", "size": 36, "filled": false, "color": "#ff7f0e", "strokeWidth": 1, "opacity": 1}, "encoding": {"x": {"field": "x", "type": "quantitative"}, "y": {"field": "y", "type": "quantitative"}}},
     {"mark": {"type": "rule", "color": "black", "strokeWidth": 1}, "encoding": {"y": {"datum": -0.316}}},
     {"mark": {"type": "point", "shape": "diamond", "size": 90, "filled": true, "color": "black", "opacity": 1}, "encoding": {"x": {"datum": 1.0}, "y": {"datum": -0.316}}},
     {"mark": {"type": "text", "font": "DejaVu Sans", "fontSize": 17, "fontWeight": "bold", "baseline": "alphabetic"}, "encoding": {"x": {"datum": -0.3}, "y": {"datum": -0.05}, "text": {"value": "b"}}},
     {"mark": {"type": "rule", "color": "#1f77b4", "strokeDash": [6, 3], "strokeWidth": 1.5}, "encoding": {"x": {"datum": 0.174}, "x2": {"datum": 0.308}, "y": {"datum": -1.074}}},
     {"mark": {"type": "text"}, "encoding": {"x": {"datum": 0.318}, "y": {"datum": -1.074}, "text": {"value": "μᶜ ideal"}}},
     {"mark": {"type": "point", "shape": "diamond", "size": 90, "filled": true, "color": "black", "opacity": 1}, "encoding": {"x": {"datum": 0.677}, "y": {"datum": -1.074}}},
     {"mark": {"type": "text"}, "encoding": {"x": {"datum": 0.726}, "y": {"datum": -1.074}, "text": {"value": "μᴅ"}}},
     {"mark": {"type": "rule", "color": "#1f77b4", "strokeWidth": 1.5}, "encoding": {"x": {"datum": 0.174}, "x2": {"datum": 0.308}, "y": {"datum": -1.224}}},
     {"mark": {"type": "point", "shape": "M-1,-1L1,1M-1,1L1,-1M0,-1.3L0,1.3", "size": 60, "filled": false, "color": "#1f77b4", "strokeWidth": 1.2, "opacity": 1}, "encoding": {"x": {"datum": 0.241}, "y": {"datum": -1.224}}},
     {"mark": {"type": "text"}, "encoding": {"x": {"datum": 0.318}, "y": {"datum": -1.224}, "text": {"value": "μᶜ S0"}}},
     {"mark": {"type": "rule", "color": "#ff7f0e", "strokeWidth": 1.5}, "encoding": {"x": {"datum": 0.587}, "x2": {"datum": 0.718}, "y": {"datum": -1.224}}},
     {"mark": {"type": "point", "shape": "M-1,-1L1,1M-1,1L1,-1M0,-1.3L0,1.3", "size": 60, "filled": false, "color": "#ff7f0e", "strokeWidth": 1.2, "opacity": 1}, "encoding": {"x": {"datum": 0.652}, "y": {"datum": -1.224}}},
     {"mark": {"type": "text"}, "encoding": {"x": {"datum": 0.726}, "y": {"datum": -1.224}, "text": {"value": "μᴴ S0"}}},
     {"mark": {"type": "rule", "color": "#1f77b4", "strokeDash": [1.5, 2.5], "strokeWidth": 1.5}, "encoding": {"x": {"datum": 0.174}, "x2": {"datum": 0.308}, "y": {"datum": -1.368}}},
     {"mark": {"type": "point", "shape": "circle", "size": 50, "filled": false, "color": "#1f77b4", "strokeWidth": 1, "opacity": 1}, "encoding": {"x": {"datum": 0.241}, "y": {"datum": -1.368}}},
     {"mark": {"type": "text"}, "encoding": {"x": {"datum": 0.318}, "y": {"datum": -1.368}, "text": {"value": "μᶜ coexistence"}}}
    ]},
   {"width": 203, "height": 206,
    "data": {"values": [{}]},
    "layer": [
     {"data": {"name": "c_id"}, "mark": {"type": "line", "color": "#8c8c8c", "strokeDash": [2, 3], "clip": true},
      "encoding": {"x": {"field": "x", "type": "quantitative", "scale": {"domain": [0, 1], "nice": false, "zero": false}, "axis": {"values": [0, 0.2, 0.4, 0.6, 0.8, 1], "format": ".1f", "title": "χC", "titlePadding": -9, "titleFontSize": 14}},
                   "y": {"field": "y", "type": "quantitative", "scale": {"domain": [-0.2526, 0.0103], "nice": false, "zero": false}, "axis": {"values": [0, -0.1, -0.2], "format": ".1f", "title": "μₘᵢₓₜᵤᵣₑ [eV/atom]", "titlePadding": 6}}}},
     {"data": {"name": "c_ps1l"}, "mark": {"type": "line", "color": "green"}, "encoding": {"x": {"field": "x", "type": "quantitative"}, "y": {"field": "y", "type": "quantitative"}}},
     {"data": {"name": "c_s0"}, "mark": {"type": "line", "color": "red"}, "encoding": {"x": {"field": "x", "type": "quantitative"}, "y": {"field": "y", "type": "quantitative"}}},
     {"data": {"name": "c_s0"}, "mark": {"type": "point", "shape": "circle", "size": 12, "filled": true, "color": "red", "opacity": 1}, "encoding": {"x": {"field": "x", "type": "quantitative"}, "y": {"field": "y", "type": "quantitative"}}},
     {"data": {"name": "c_ps1m"}, "mark": {"type": "point", "shape": "M-1,-1L1,1M-1,1L1,-1", "size": 200, "filled": false, "color": "green", "strokeWidth": 1.3, "opacity": 1}, "encoding": {"x": {"field": "x", "type": "quantitative"}, "y": {"field": "y", "type": "quantitative"}}},
     {"mark": {"type": "text", "font": "DejaVu Sans", "fontSize": 17, "fontWeight": "bold", "baseline": "alphabetic"}, "encoding": {"x": {"datum": -0.3}, "y": {"datum": 0.0013}, "text": {"value": "c"}}},
     {"mark": {"type": "rule", "color": "#8c8c8c", "strokeDash": [2, 3], "strokeWidth": 1.5}, "encoding": {"x": {"datum": 0.066}, "x2": {"datum": 0.2}, "y": {"datum": -0.015}}},
     {"mark": {"type": "text"}, "encoding": {"x": {"datum": 0.25}, "y": {"datum": -0.015}, "text": {"value": "ideal"}}},
     {"mark": {"type": "rule", "color": "green", "strokeWidth": 1.5}, "encoding": {"x": {"datum": 0.066}, "x2": {"datum": 0.2}, "y": {"datum": -0.0406}}},
     {"mark": {"type": "point", "shape": "M-1,-1L1,1M-1,1L1,-1", "size": 200, "filled": false, "color": "green", "strokeWidth": 1.3, "opacity": 1}, "encoding": {"x": {"datum": 0.133}, "y": {"datum": -0.0406}}},
     {"mark": {"type": "text"}, "encoding": {"x": {"datum": 0.25}, "y": {"datum": -0.0406}, "text": {"value": "PS1 χC = 0.27, 0.36"}}},
     {"mark": {"type": "rule", "color": "red", "strokeWidth": 1.5}, "encoding": {"x": {"datum": 0.066}, "x2": {"datum": 0.2}, "y": {"datum": -0.0662}}},
     {"mark": {"type": "point", "shape": "M0,-1L0,1", "size": 100, "filled": false, "color": "red", "strokeWidth": 1.5, "opacity": 1}, "encoding": {"x": {"datum": 0.133}, "y": {"datum": -0.0662}}},
     {"mark": {"type": "text"}, "encoding": {"x": {"datum": 0.25}, "y": {"datum": -0.0662}, "text": {"value": "S0"}}}
    ]}
  ], "spacing": 11, "bounds": "flush"},
  {"vconcat": [
   {"width": 202, "height": 1, "view": {"stroke": null}, "data": {"values": [{}]}, "mark": {"type": "point", "opacity": 0}, "encoding": {}},
   {"width": 202, "height": 84,
    "data": {"values": [{}]},
    "layer": [
     {"data": {"name": "d"}, "mark": {"type": "line", "color": "#1f77b4", "strokeDash": [5, 3]},
      "encoding": {"x": {"field": "x", "type": "quantitative", "scale": {"domain": [0, 1], "nice": false, "zero": false}, "axis": {"values": [0, 0.2, 0.4, 0.6, 0.8, 1], "labels": false, "title": null}},
                   "y": {"field": "y", "type": "quantitative", "scale": {"domain": [-0.165, 2.76], "nice": false, "zero": false}, "axis": {"values": [0, 1, 2], "format": "d", "title": "dμᶜ/dlnχC [kBT]", "titlePadding": 9, "titleFontSize": 12}}}},
     {"data": {"name": "d"}, "mark": {"type": "point", "shape": "M-1,-1L1,1M-1,1L1,-1M0,-1.3L0,1.3", "size": 36, "filled": false, "color": "#1f77b4", "strokeWidth": 1, "opacity": 1},
      "encoding": {"x": {"field": "x", "type": "quantitative"}, "y": {"field": "y", "type": "quantitative"}}},
     {"mark": {"type": "text", "font": "DejaVu Sans", "fontSize": 17, "fontWeight": "bold", "baseline": "alphabetic"}, "encoding": {"x": {"datum": -0.309}, "y": {"datum": 2.87}, "text": {"value": "d"}}},
     {"mark": {"type": "text", "fontSize": 12.5}, "encoding": {"x": {"datum": 0.104}, "y": {"datum": 2.3}, "text": {"value": "400 GPa 3000 K"}}},
     {"mark": {"type": "rule", "color": "#1f77b4", "strokeDash": [5, 3], "strokeWidth": 1.5}, "encoding": {"x": {"datum": 0.7}, "x2": {"datum": 0.83}, "y": {"datum": 2.155}}},
     {"mark": {"type": "point", "shape": "M-1,-1L1,1M-1,1L1,-1M0,-1.3L0,1.3", "size": 60, "filled": false, "color": "#1f77b4", "strokeWidth": 1.2, "opacity": 1}, "encoding": {"x": {"datum": 0.765}, "y": {"datum": 2.155}}},
     {"mark": {"type": "text", "fontSize": 12.5}, "encoding": {"x": {"datum": 0.885}, "y": {"datum": 2.155}, "text": {"value": "C"}}}
    ]},
   {"width": 202, "height": 201,
    "data": {"values": [{}]},
    "layer": [
     {"data": {"name": "e_cid"}, "mark": {"type": "line", "color": "#1f77b4", "strokeDash": [6, 3], "clip": true},
      "encoding": {"x": {"field": "x", "type": "quantitative", "scale": {"domain": [0, 1], "nice": false, "zero": false}, "axis": {"values": [0, 0.2, 0.4, 0.6, 0.8, 1], "labels": false, "title": null}},
                   "y": {"field": "y", "type": "quantitative", "scale": {"domain": [-0.895, 0.106], "nice": false, "zero": false}, "axis": {"values": [0, -0.2, -0.4, -0.6, -0.8], "format": ".1f", "title": "μ [eV/atom]", "titlePadding": 6}}}},
     {"data": {"name": "e_cs0"}, "mark": {"type": "line", "color": "#1f77b4"}, "encoding": {"x": {"field": "x", "type": "quantitative"}, "y": {"field": "y", "type": "quantitative"}}},
     {"data": {"name": "e_cs0"}, "mark": {"type": "point", "shape": "M-1,-1L1,1M-1,1L1,-1M0,-1.3L0,1.3", "size": 36, "filled": false, "color": "#1f77b4", "strokeWidth": 1, "opacity": 1}, "encoding": {"x": {"field": "x", "type": "quantitative"}, "y": {"field": "y", "type": "quantitative"}}},
     {"data": {"name": "e_hs0"}, "mark": {"type": "line", "color": "#ff7f0e"}, "encoding": {"x": {"field": "x", "type": "quantitative"}, "y": {"field": "y", "type": "quantitative"}}},
     {"data": {"name": "e_hs0"}, "mark": {"type": "point", "shape": "M-1,-1L1,1M-1,1L1,-1M0,-1.3L0,1.3", "size": 36, "filled": false, "color": "#ff7f0e", "strokeWidth": 1, "opacity": 1}, "encoding": {"x": {"field": "x", "type": "quantitative"}, "y": {"field": "y", "type": "quantitative"}}},
     {"mark": {"type": "rule", "color": "black", "strokeWidth": 1}, "encoding": {"y": {"datum": -0.621}}},
     {"mark": {"type": "point", "shape": "diamond", "size": 90, "filled": true, "color": "black", "opacity": 1}, "encoding": {"x": {"datum": 0.995}, "y": {"datum": -0.626}}},
     {"mark": {"type": "text", "font": "DejaVu Sans", "fontSize": 17, "fontWeight": "bold", "baseline": "alphabetic"}, "encoding": {"x": {"datum": -0.3}, "y": {"datum": 0.055}, "text": {"value": "e"}}},
     {"mark": {"type": "rule", "color": "#1f77b4", "strokeDash": [6, 3], "strokeWidth": 1.5}, "encoding": {"x": {"datum": 0.202}, "x2": {"datum": 0.334}, "y": {"datum": -0.703}}},
     {"mark": {"type": "text"}, "encoding": {"x": {"datum": 0.342}, "y": {"datum": -0.703}, "text": {"value": "μᶜ ideal"}}},
     {"mark": {"type": "point", "shape": "diamond", "size": 90, "filled": true, "color": "black", "opacity": 1}, "encoding": {"x": {"datum": 0.679}, "y": {"datum": -0.703}}},
     {"mark": {"type": "text"}, "encoding": {"x": {"datum": 0.737}, "y": {"datum": -0.703}, "text": {"value": "μᴅ"}}},
     {"mark": {"type": "rule", "color": "#1f77b4", "strokeWidth": 1.5}, "encoding": {"x": {"datum": 0.202}, "x2": {"datum": 0.334}, "y": {"datum": -0.792}}},
     {"mark": {"type": "point", "shape": "M-1,-1L1,1M-1,1L1,-1M0,-1.3L0,1.3", "size": 60, "filled": false, "color": "#1f77b4", "strokeWidth": 1.2, "opacity": 1}, "encoding": {"x": {"datum": 0.268}, "y": {"datum": -0.792}}},
     {"mark": {"type": "text"}, "encoding": {"x": {"datum": 0.342}, "y": {"datum": -0.792}, "text": {"value": "μᶜ S0"}}},
     {"mark": {"type": "rule", "color": "#ff7f0e", "strokeWidth": 1.5}, "encoding": {"x": {"datum": 0.605}, "x2": {"datum": 0.737}, "y": {"datum": -0.792}}},
     {"mark": {"type": "point", "shape": "M-1,-1L1,1M-1,1L1,-1M0,-1.3L0,1.3", "size": 60, "filled": false, "color": "#ff7f0e", "strokeWidth": 1.2, "opacity": 1}, "encoding": {"x": {"datum": 0.671}, "y": {"datum": -0.792}}},
     {"mark": {"type": "text"}, "encoding": {"x": {"datum": 0.745}, "y": {"datum": -0.792}, "text": {"value": "μᴴ S0"}}}
    ]},
   {"width": 202, "height": 206,
    "data": {"values": [{}]},
    "layer": [
     {"data": {"name": "f_id"}, "mark": {"type": "line", "color": "#8c8c8c", "strokeDash": [2, 3], "clip": true},
      "encoding": {"x": {"field": "x", "type": "quantitative", "scale": {"domain": [0, 1], "nice": false, "zero": false}, "axis": {"values": [0, 0.2, 0.4, 0.6, 0.8, 1], "format": ".1f", "title": "χC", "titlePadding": -9, "titleFontSize": 14}},
                   "y": {"field": "y", "type": "quantitative", "title": "μₘᵢₓₜᵤᵣₑ [eV/atom]", "scale": {"domain": [-0.1202, 0.0102], "nice": false, "zero": false}, "axis": {"values": [0, -0.05, -0.1], "format": ".2f", "titlePadding": 6}},
                   "detail": {"field": "s"}}},
     {"data": {"name": "f_ps2l"}, "mark": {"type": "line", "color": "purple", "clip": true}, "encoding": {"x": {"field": "x", "type": "quantitative"}, "y": {"field": "y", "type": "quantitative", "title": "μₘᵢₓₜᵤᵣₑ [eV/atom]"}}},
     {"data": {"name": "f_ps1l"}, "mark": {"type": "line", "color": "green", "clip": true}, "encoding": {"x": {"field": "x", "type": "quantitative"}, "y": {"field": "y", "type": "quantitative", "title": "μₘᵢₓₜᵤᵣₑ [eV/atom]"}}},
     {"data": {"name": "f_s0"}, "mark": {"type": "line", "color": "red"}, "encoding": {"x": {"field": "x", "type": "quantitative"}, "y": {"field": "y", "type": "quantitative", "title": "μₘᵢₓₜᵤᵣₑ [eV/atom]"}}},
     {"data": {"name": "f_s0"}, "mark": {"type": "errorbar", "color": "red", "thickness": 1.5}, "encoding": {"x": {"field": "x", "type": "quantitative"}, "y": {"field": "y", "type": "quantitative", "title": "μₘᵢₓₜᵤᵣₑ [eV/atom]"}, "yError": {"field": "err"}}},
     {"data": {"name": "f_ps1m"}, "mark": {"type": "point", "shape": "M-1,-1L1,1M-1,1L1,-1", "size": 180, "filled": false, "color": "green", "strokeWidth": 1.3, "opacity": 1}, "encoding": {"x": {"field": "x", "type": "quantitative"}, "y": {"field": "y", "type": "quantitative", "title": "μₘᵢₓₜᵤᵣₑ [eV/atom]"}}},
     {"data": {"name": "f_ps2m"}, "mark": {"type": "point", "shape": "M-1,-1L1,1M-1,1L1,-1", "size": 180, "filled": false, "color": "purple", "strokeWidth": 1.3, "opacity": 1}, "encoding": {"x": {"field": "x", "type": "quantitative"}, "y": {"field": "y", "type": "quantitative", "title": "μₘᵢₓₜᵤᵣₑ [eV/atom]"}}},
     {"mark": {"type": "text", "font": "DejaVu Sans", "fontSize": 17, "fontWeight": "bold", "baseline": "alphabetic"}, "encoding": {"x": {"datum": -0.31}, "y": {"datum": 0.0053}, "text": {"value": "f"}}},
     {"mark": {"type": "rule", "color": "#8c8c8c", "strokeDash": [2, 3], "strokeWidth": 1.5}, "encoding": {"x": {"datum": 0.095}, "x2": {"datum": 0.227}, "y": {"datum": -0.0021}}},
     {"mark": {"type": "text"}, "encoding": {"x": {"datum": 0.235}, "y": {"datum": -0.0021}, "text": {"value": "ideal"}}},
     {"mark": {"type": "rule", "color": "green", "strokeWidth": 1.5}, "encoding": {"x": {"datum": 0.095}, "x2": {"datum": 0.227}, "y": {"datum": -0.0149}}},
     {"mark": {"type": "point", "shape": "M-1,-1L1,1M-1,1L1,-1", "size": 180, "filled": false, "color": "green", "strokeWidth": 1.3, "opacity": 1}, "encoding": {"x": {"datum": 0.161}, "y": {"datum": -0.0149}}},
     {"mark": {"type": "text"}, "encoding": {"x": {"datum": 0.235}, "y": {"datum": -0.0149}, "text": {"value": "PS1 χC = 0.24, 0.35"}}},
     {"mark": {"type": "point", "shape": "M-1,-1L1,1M-1,1L1,-1", "size": 180, "filled": false, "color": "purple", "strokeWidth": 1.3, "opacity": 1}, "encoding": {"x": {"datum": 0.161}, "y": {"datum": -0.0277}}},
     {"mark": {"type": "text"}, "encoding": {"x": {"datum": 0.235}, "y": {"datum": -0.0277}, "text": {"value": "PS2 χC = 0, 0.12"}}},
     {"mark": {"type": "rule", "color": "red", "strokeWidth": 1.5}, "encoding": {"x": {"datum": 0.08}, "x2": {"datum": 0.227}, "y": {"datum": -0.0415}}},
     {"mark": {"type": "point", "shape": "M0,-1L0,1", "size": 150, "filled": false, "color": "red", "strokeWidth": 1.5, "opacity": 1}, "encoding": {"x": {"datum": 0.161}, "y": {"datum": -0.0415}}},
     {"mark": {"type": "text"}, "encoding": {"x": {"datum": 0.235}, "y": {"datum": -0.0415}, "text": {"value": "S0"}}}
    ]}
  ], "spacing": 11, "bounds": "flush"}
 ], "spacing": 24},
 {"width": 601, "height": 512,
  "data": {"values": [{}]},
  "layer": [
   {"data": {"name": "g_dep"}, "mark": {"type": "area", "color": "#c6e1ee", "opacity": 1},
    "encoding": {"x": {"field": "P", "type": "quantitative", "scale": {"domain": [0, 600], "nice": false, "zero": false}, "axis": {"values": [0, 100, 200, 300, 400, 500, 600], "format": "d", "title": "P [GPa]", "titlePadding": 1, "labelFontSize": 14}},
                 "y": {"field": "lo", "type": "quantitative", "scale": {"domain": [1992, 8210], "nice": false, "zero": false}, "axis": {"values": [2000, 3000, 4000, 5000, 6000, 7000, 8000], "format": "d", "title": "T [K]", "titlePadding": 8, "labelFontSize": 14}},
                 "y2": {"field": "hi"}}},
   {"data": {"name": "g_cont"}, "mark": {"type": "line", "strokeWidth": 2},
    "encoding": {"x": {"field": "P", "type": "quantitative"}, "y": {"field": "T", "type": "quantitative"},
                 "color": {"field": "lv", "type": "nominal", "scale": {"domain": ["0.1", "0.15", "0.2", "0.25", "0.3", "0.4", "0.5", "0.6", "0.7", "0.8", "0.9"], "range": ["#3300cc", "#4d00b3", "#660099", "#800080", "#990066", "#cc0033", "#ff0000", "#cc3300", "#996600", "#669900", "#33cc00"]}, "legend": null},
                 "detail": {"field": "seg"}}},
   {"data": {"name": "g_tm"}, "mark": {"type": "line", "color": "black", "strokeWidth": 1.5}, "encoding": {"x": {"field": "P", "type": "quantitative"}, "y": {"field": "T", "type": "quantitative"}}},
   {"data": {"name": "g_ne"}, "mark": {"type": "line", "color": "#ffa500", "strokeWidth": 3.5}, "encoding": {"x": {"field": "P", "type": "quantitative"}, "y": {"field": "T", "type": "quantitative"}}},
   {"data": {"name": "g_ur"}, "mark": {"type": "line", "color": "#00ff00", "strokeWidth": 3.5}, "encoding": {"x": {"field": "P", "type": "quantitative"}, "y": {"field": "T", "type": "quantitative"}}},
   {"data": {"name": "g_hirai"}, "mark": {"type": "rect", "filled": false, "color": "#5c1a9c", "strokeWidth": 3, "strokeDash": [10, 5]}, "encoding": {"x": {"field": "P1", "type": "quantitative"}, "x2": {"field": "P2"}, "y": {"field": "T1", "type": "quantitative"}, "y2": {"field": "T2"}}},
   {"data": {"name": "g_bene"}, "mark": {"type": "rect", "filled": false, "color": "#5c1a9c", "strokeWidth": 3, "strokeDash": [3, 4]}, "encoding": {"x": {"field": "P1", "type": "quantitative"}, "x2": {"field": "P2"}, "y": {"field": "T1", "type": "quantitative"}, "y2": {"field": "T2"}}},
   {"data": {"name": "g_kado"}, "mark": {"type": "point", "shape": "M0,-1L0.6,0L0,1L-0.6,0Z", "size": 380, "filled": false, "color": "#5c0ea8", "strokeWidth": 2, "opacity": 1}, "encoding": {"x": {"field": "P", "type": "quantitative"}, "y": {"field": "T", "type": "quantitative"}}},
   {"data": {"name": "g_krd"}, "mark": {"type": "point", "shape": "M0,-1L0.6,0L0,1L-0.6,0Z", "size": 330, "filled": true, "color": "red", "opacity": 1}, "encoding": {"x": {"field": "P", "type": "quantitative"}, "y": {"field": "T", "type": "quantitative"}}},
   {"data": {"name": "g_krn"}, "mark": {"type": "point", "shape": "M-1,-1L1,1M-1,1L1,-1", "size": 150, "filled": false, "color": "red", "strokeWidth": 1.2, "opacity": 1}, "encoding": {"x": {"field": "P", "type": "quantitative"}, "y": {"field": "T", "type": "quantitative"}}},
   {"data": {"name": "g_har"}, "mark": {"type": "point", "shape": "M-1,-1L1,1M-1,1L1,-1", "size": 130, "filled": false, "color": "#a3246c", "strokeWidth": 1.2, "opacity": 1}, "encoding": {"x": {"field": "P", "type": "quantitative"}, "y": {"field": "T", "type": "quantitative"}}},
   {"data": {"name": "g_mar"}, "mark": {"type": "point", "shape": "M0,-1L0.6,0L0,1L-0.6,0Z", "size": 330, "filled": false, "color": "#d0103a", "strokeWidth": 2, "opacity": 1}, "encoding": {"x": {"field": "P", "type": "quantitative"}, "y": {"field": "T", "type": "quantitative"}}},
   {"data": {"name": "g_lab"}, "mark": {"type": "text", "align": "center", "fontSize": 14}, "encoding": {"x": {"field": "P", "type": "quantitative"}, "y": {"field": "T", "type": "quantitative"}, "text": {"field": "lv"}, "color": {"field": "lv", "type": "nominal", "legend": null}}},
   {"mark": {"type": "text", "font": "DejaVu Sans", "fontSize": 17, "fontWeight": "bold", "baseline": "alphabetic"}, "encoding": {"x": {"datum": -71.7}, "y": {"datum": 8077}, "text": {"value": "g"}}},
   {"mark": {"type": "text", "align": "center", "fontSize": 14, "color": "#00e000"}, "encoding": {"x": {"datum": 209}, "y": {"datum": 4164}, "text": {"value": "Uranus"}}},
   {"mark": {"type": "text", "align": "center", "fontSize": 14, "color": "#ffa500"}, "encoding": {"x": {"datum": 404}, "y": {"datum": 4104}, "text": {"value": "Neptune"}}},
   {"mark": {"type": "text", "align": "center", "fontSize": 13.5, "color": "#3300cc", "angle": 351}, "encoding": {"x": {"datum": 354}, "y": {"datum": 3699}, "text": {"value": "depletion zone"}}},
   {"mark": {"type": "rect", "color": "white", "fillOpacity": 0.85, "stroke": "#cccccc", "strokeWidth": 1, "cornerRadius": 4}, "encoding": {"x": {"datum": 8.3}, "x2": {"datum": 164}, "y": {"datum": 7761}, "y2": {"datum": 8101}}},
   {"mark": {"type": "rule", "color": "black", "strokeWidth": 1.5}, "encoding": {"x": {"datum": 14}, "x2": {"datum": 47.3}, "y": {"datum": 7931}}},
   {"mark": {"type": "text", "fontSize": 13}, "encoding": {"x": {"datum": 59}, "y": {"datum": 7931}, "text": {"value": "Tₘ diamond"}}},
   {"mark": {"type": "rect", "color": "white", "fillOpacity": 0.8, "stroke": "#cccccc", "strokeWidth": 1, "cornerRadius": 4}, "encoding": {"x": {"datum": 393}, "x2": {"datum": 594}, "y": {"datum": 2052}, "y2": {"datum": 3607}}},
   {"mark": {"type": "text", "fontSize": 11.5, "baseline": "alphabetic", "lineHeight": 17.9}, "encoding": {"x": {"datum": 398.3}, "y": {"datum": 3450}, "text": {"value": ["Experiments", "Benedetti CH4", "Hirai CH4", "Kadobayashi MH", "Kraus C8H8", "Hartley C2H4", "Marshall epoxy"]}}},
   {"mark": {"type": "text", "fontSize": 11.5, "align": "center"}, "encoding": {"x": {"datum": 532}, "y": {"datum": 3496}, "text": {"value": "D"}}},
   {"mark": {"type": "text", "fontSize": 11.5, "align": "center"}, "encoding": {"x": {"datum": 574}, "y": {"datum": 3496}, "text": {"value": "no D"}}},
   {"mark": {"type": "rule", "color": "#5c1a9c", "strokeWidth": 3.5, "strokeDash": [3, 5]}, "encoding": {"x": {"datum": 527}, "x2": {"datum": 552}, "y": {"datum": 3282}}},
   {"mark": {"type": "rule", "color": "#5c1a9c", "strokeWidth": 3.5, "strokeDash": [10, 4, 3, 4]}, "encoding": {"x": {"datum": 527}, "x2": {"datum": 552}, "y": {"datum": 3063}}},
   {"mark": {"type": "point", "shape": "M0,-1L0.6,0L0,1L-0.6,0Z", "size": 330, "filled": false, "color": "#5c0ea8", "strokeWidth": 2, "opacity": 1}, "encoding": {"x": {"datum": 539.6}, "y": {"datum": 2840}}},
   {"mark": {"type": "point", "shape": "M0,-1L0.6,0L0,1L-0.6,0Z", "size": 330, "filled": true, "color": "red", "opacity": 1}, "encoding": {"x": {"datum": 539.6}, "y": {"datum": 2626}}},
   {"mark": {"type": "point", "shape": "M-1,-1L1,1M-1,1L1,-1", "size": 200, "filled": false, "color": "red", "strokeWidth": 1.2, "opacity": 1}, "encoding": {"x": {"datum": 574}, "y": {"datum": 2626}}},
   {"mark": {"type": "point", "shape": "M-1,-1L1,1M-1,1L1,-1", "size": 200, "filled": false, "color": "#a3246c", "strokeWidth": 1.2, "opacity": 1}, "encoding": {"x": {"datum": 574}, "y": {"datum": 2415}}},
   {"mark": {"type": "point", "shape": "M0,-1L0.6,0L0,1L-0.6,0Z", "size": 330, "filled": false, "color": "#d0103a", "strokeWidth": 2, "opacity": 1}, "encoding": {"x": {"datum": 539.6}, "y": {"datum": 2192}}}
  ]}
],
"spacing": 10
}
